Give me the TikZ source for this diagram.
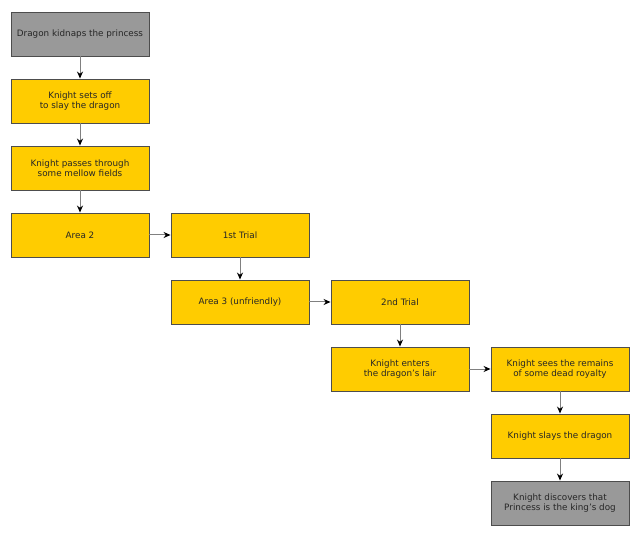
\documentclass[tikz,border=0pt]{standalone}
\usepackage{fontspec}
\setmainfont{DejaVu Sans}
\usetikzlibrary{arrows.meta}
\definecolor{gold}{HTML}{FFCC00}
\definecolor{greybox}{HTML}{999999}
\definecolor{edge}{HTML}{4D4D4D}
\definecolor{wire}{HTML}{808080}
\begin{document}
\begin{tikzpicture}[x=1pt,y=-1pt,
  box/.style={draw=edge,line width=0.9pt,minimum width=138pt,minimum height=44pt,
    inner sep=1pt,align=center,font=\fontsize{8.8}{10.5}\selectfont,text=black!85},
  goldbox/.style={box,fill=gold},
  greyb/.style={box,fill=greybox},
  link/.style={draw=wire,line width=1pt,-{Stealth[length=7pt,width=6pt,color=black]}}]
\useasboundingbox (0,0) rectangle (640,537);
\node[greyb]   (a) at (80,34)  {Dragon kidnaps the princess};
\node[goldbox] (b) at (80,101) {Knight sets off\\to slay the dragon};
\node[goldbox] (c) at (80,168) {Knight passes through\\some mellow fields};
\node[goldbox] (d) at (80,235) {Area 2};
\node[goldbox] (e) at (240,235) {1st Trial};
\node[goldbox] (f) at (240,302) {Area 3 (unfriendly)};
\node[goldbox] (g) at (400,302) {2nd Trial};
\node[goldbox] (h) at (400,369) {Knight enters\\the dragon's lair};
\node[goldbox] (i) at (560,369) {Knight sees the remains\\of some dead royalty};
\node[goldbox] (j) at (560,436) {Knight slays the dragon};
\node[greyb]   (k) at (560,503) {Knight discovers that\\Princess is the king's dog};
\draw[link] (a) -- (b);
\draw[link] (b) -- (c);
\draw[link] (c) -- (d);
\draw[link] (d) -- (e);
\draw[link] (e) -- (f);
\draw[link] (f) -- (g);
\draw[link] (g) -- (h);
\draw[link] (h) -- (i);
\draw[link] (i) -- (j);
\draw[link] (j) -- (k);
\end{tikzpicture}
\end{document}
